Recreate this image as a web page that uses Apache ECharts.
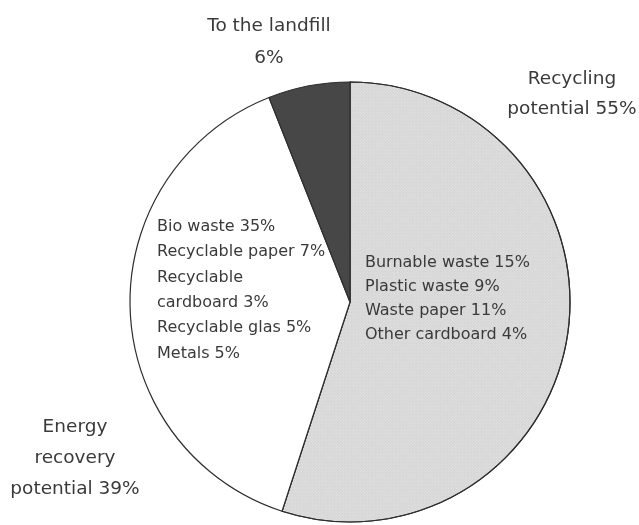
<!DOCTYPE html>
<html>
<head>
<meta charset="utf-8">
<script src="https://cdn.jsdelivr.net/npm/echarts@6/dist/echarts.min.js"></script>
<style>
  html, body { margin: 0; padding: 0; background: #ffffff; }
  #chart { width: 639px; height: 525px; }
</style>
</head>
<body>
<div id="chart"></div>
<script>
// Waste streams, shares in percent
const sliceNames = ['Recycling potential', 'Energy recovery potential', 'To the landfill'];
const sliceValues = [55, 39, 6];
const sliceColors = ['#d6d6d6', '#ffffff', '#474747'];

// Outer labels, one per slice
const outerLabels = [
  ['Recycling', 'potential 55%'],
  ['Energy', 'recovery', 'potential 39%'],
  ['To the landfill', '6%']
];

// Component lists written inside the slices
const leftList = ['Bio waste 35%', 'Recyclable paper 7%', 'Recyclable', 'cardboard 3%', 'Recyclable glas 5%', 'Metals 5%'];
const rightList = ['Burnable waste 15%', 'Plastic waste 9%', 'Waste paper 11%', 'Other cardboard 4%'];

const chart = echarts.init(document.getElementById('chart'), null, { renderer: 'canvas' });

const textColor = '#3a3a3a';
const outerFont = '18.5px "DejaVu Sans", sans-serif';
const innerFont = '16px "DejaVu Sans", sans-serif';

function textBlock(lines, x, y, font, align, lh) {
  return {
    type: 'text',
    x: x,
    y: y,
    z: 100,
    style: { text: lines.join('\n'), font: font, fill: textColor, align: align, lineHeight: lh }
  };
}

const option = {
  backgroundColor: '#ffffff',
  animation: false,
  series: [{
    type: 'pie',
    center: [350, 302],
    radius: 220,
    startAngle: 90,
    clockwise: true,
    z: 1,
    label: { show: false },
    labelLine: { show: false },
    emphasis: { disabled: true },
    itemStyle: { borderColor: '#2e2e2e', borderWidth: 1.2 },
    data: sliceNames.map((n, i) => ({
      name: n,
      value: sliceValues[i],
      itemStyle: i === 0 ? {
        color: sliceColors[i],
        decal: {
          symbol: 'rect',
          symbolSize: 1,
          dashArrayX: [1, 1],
          dashArrayY: [1, 1],
          rotation: Math.PI / 4,
          color: 'rgba(255,255,255,0.35)'
        }
      } : { color: sliceColors[i] }
    }))
  }],
  graphic: {
    elements: [
      textBlock(outerLabels[0], 572, 64, outerFont, 'center', 30),
      textBlock(outerLabels[1], 75, 412, outerFont, 'center', 31),
      textBlock(outerLabels[2], 269, 10, outerFont, 'center', 32),
      textBlock(leftList, 157, 214, innerFont, 'left', 25.4),
      textBlock(rightList, 365, 251, innerFont, 'left', 24)
    ]
  }
};

chart.setOption(option);
</script>
</body>
</html>
